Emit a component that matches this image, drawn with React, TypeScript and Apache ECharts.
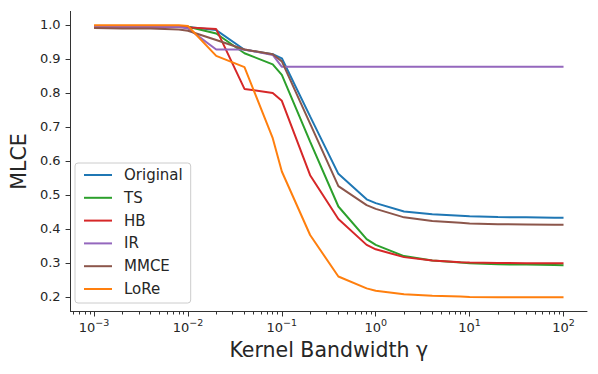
import React, { useEffect, useRef } from "react";
import * as echarts from "echarts";

const gammas = [0.001, 0.002, 0.004, 0.008, 0.01, 0.02, 0.04, 0.08, 0.1, 0.2, 0.4, 0.8, 1, 2, 4, 8, 10, 20, 40, 80, 100];

const original = [0.996, 0.996, 0.996, 0.995, 0.994, 0.985, 0.927, 0.914, 0.902, 0.731, 0.562, 0.487, 0.476, 0.451, 0.443, 0.439, 0.437, 0.435, 0.434, 0.433, 0.433];
const ts = [0.997, 0.997, 0.997, 0.996, 0.995, 0.975, 0.917, 0.884, 0.853, 0.657, 0.466, 0.37, 0.353, 0.32, 0.307, 0.301, 0.299, 0.296, 0.295, 0.294, 0.293];
const hb = [0.995, 0.995, 0.995, 0.994, 0.993, 0.988, 0.812, 0.8, 0.777, 0.558, 0.429, 0.353, 0.34, 0.317, 0.307, 0.302, 0.301, 0.3, 0.299, 0.299, 0.299];
const ir = [0.995, 0.995, 0.995, 0.994, 0.99, 0.928, 0.928, 0.912, 0.877, 0.877, 0.877, 0.877, 0.877, 0.877, 0.877, 0.877, 0.877, 0.877, 0.877, 0.877, 0.877];
const mmce = [0.991, 0.99, 0.99, 0.987, 0.983, 0.956, 0.928, 0.914, 0.893, 0.71, 0.526, 0.47, 0.459, 0.434, 0.423, 0.418, 0.416, 0.414, 0.413, 0.412, 0.412];
const lore = [0.999, 0.999, 0.999, 0.999, 0.997, 0.909, 0.876, 0.667, 0.569, 0.382, 0.26, 0.225, 0.218, 0.208, 0.203, 0.201, 0.2, 0.199, 0.199, 0.199, 0.199];

const seriesNames = ["Original", "TS", "HB", "IR", "MMCE", "LoRe"];
const seriesValues = [original, ts, hb, ir, mmce, lore];
const seriesColors = ["#1f77b4", "#2ca02c", "#d62728", "#9467bd", "#8c564b", "#ff7f0e"];

const yTicks = [0.2, 0.3, 0.4, 0.5, 0.6, 0.7, 0.8, 0.9, 1.0];
const xTickExps = [-3, -2, -1, 0, 1, 2];

const X_MIN = -3.25;
const X_MAX = 2.25;
const FONT = "DejaVu Sans";
const INK = "#262626";

const minorTicks: number[] = [];
for (let k = -4; k <= 2; k++) {
  for (let m = 2; m <= 9; m++) {
    const v = Math.log10(m) + k;
    if (v > X_MIN && v < X_MAX) minorTicks.push(v);
  }
}

export default function App() {
  const ref = useRef<HTMLDivElement>(null);
  useEffect(() => {
    if (!ref.current) return;
    const chart = echarts.init(ref.current, null, { renderer: "svg" });
    const axisLineStyle = { color: "#333", width: 1 };
    chart.setOption({
      animation: false,
      backgroundColor: "#ffffff",
      grid: { left: 67.4, right: 11, top: 11.4, bottom: 62.5, containLabel: false },
      legend: {
        orient: "vertical",
        left: 75,
        top: 163,
        data: seriesNames,
        icon: "rect",
        itemWidth: 28,
        itemHeight: 2,
        itemGap: 6.8,
        padding: [4, 8, 6, 9],
        borderColor: "#cccccc",
        borderWidth: 1,
        borderRadius: 3,
        backgroundColor: "rgba(255,255,255,0.8)",
        textStyle: { fontFamily: FONT, fontSize: 15, color: INK, lineHeight: 16, padding: [0, 0, 0, 7] },
      },
      xAxis: [
        {
          type: "value",
          min: X_MIN,
          max: X_MAX,
          position: "bottom",
          name: "Kernel Bandwidth \u03b3",
          nameLocation: "middle",
          nameGap: 28,
          nameTextStyle: { fontFamily: FONT, fontSize: 20.5, color: INK },
          axisLine: { show: true, onZero: false, lineStyle: axisLineStyle },
          axisTick: { show: true, customValues: xTickExps, length: 5, lineStyle: axisLineStyle },
          axisLabel: {
            customValues: xTickExps,
            margin: 6,
            formatter: (v: number) => {
              const e = Math.round(v);
              return `{b|10}{s|${e < 0 ? "\u2212" : ""}${Math.abs(e)}}`;
            },
            rich: {
              b: { fontFamily: FONT, fontSize: 13, color: INK, lineHeight: 20 },
              s: { fontFamily: FONT, fontSize: 9.5, color: INK, lineHeight: 10, verticalAlign: "top" },
            },
          },
          splitLine: { show: false },
        },
        {
          type: "value",
          min: X_MIN,
          max: X_MAX,
          position: "bottom",
          axisLine: { show: false, onZero: false },
          axisTick: { show: true, customValues: minorTicks, length: 3, lineStyle: axisLineStyle },
          axisLabel: { show: false },
          splitLine: { show: false },
        },
      ],
      yAxis: {
        type: "value",
        min: 0.157,
        max: 1.04,
        name: "MLCE",
        nameLocation: "middle",
        nameGap: 31,
        nameRotate: 90,
        nameTextStyle: { fontFamily: FONT, fontSize: 20.5, color: INK },
        axisLine: { show: true, onZero: false, lineStyle: axisLineStyle },
        axisTick: { show: true, customValues: yTicks, length: 5, lineStyle: axisLineStyle },
        axisLabel: {
          customValues: yTicks,
          margin: 10,
          fontFamily: FONT,
          fontSize: 13,
          color: INK,
          formatter: (v: number) => v.toFixed(1),
        },
        splitLine: { show: false },
      },
      series: seriesNames.map((name, i) => ({
        name,
        type: "line",
        xAxisIndex: 0,
        symbol: "none",
        color: seriesColors[i],
        lineStyle: { color: seriesColors[i], width: 2 },
        data: gammas.map((g, j) => [Math.log10(g), seriesValues[i][j]]),
      })),
    });
    return () => chart.dispose();
  }, []);
  return <div ref={ref} style={{ position: "fixed", left: 0, top: 0, width: 598, height: 374 }} />;
}
